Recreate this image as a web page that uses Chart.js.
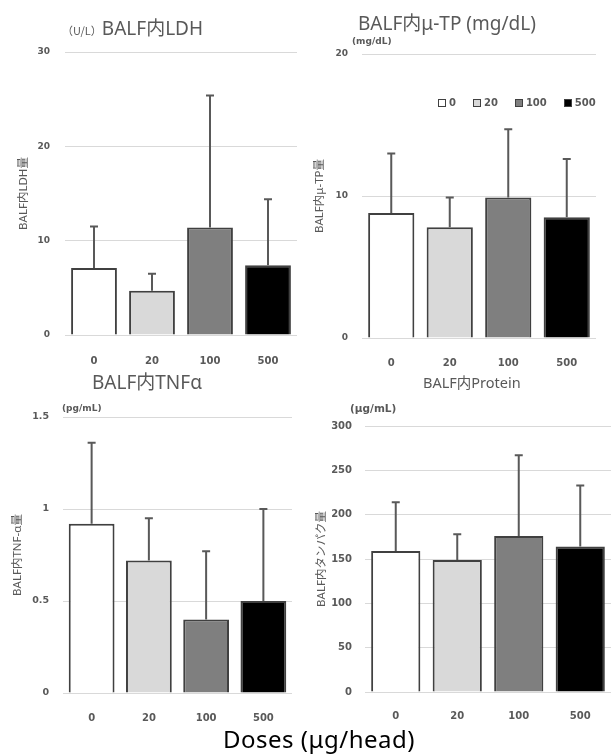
<!DOCTYPE html>
<html lang="ja">
<head>
<meta charset="UTF-8">
<title>BALF</title>
<script src="https://cdn.jsdelivr.net/npm/chart.js"></script>
<style>
  body {
    margin: 0;
    width: 611px;
    height: 754px;
    overflow: hidden;
    position: relative;
    background: #fff;
    color: #595959;
    font-family: 'Noto Sans', 'Noto Sans CJK JP', sans-serif;
  }
  canvas { position: absolute; }
  .txt { position: absolute; white-space: nowrap; line-height: 1; }
  .title { font-size: 19px; }
  .unit { font-family: 'DejaVu Sans', sans-serif; font-weight: bold; font-size: 9px; }
  #legend { position: absolute; left: 438px; top: 98px; display: flex; align-items: center;
            font-family: 'DejaVu Sans', sans-serif; font-weight: bold; font-size: 10px; line-height: 1; }
  #legend .item { display: flex; align-items: center; margin-right: 17px; }
  #legend .box { width: 6px; height: 6px; border: 1.5px solid #404040; margin-right: 3px; }
  #doses { left: 223px; top: 727px; font-size: 24px; letter-spacing: 0.5px; color: #000; }
</style>
</head>
<body>
  <canvas id="ldhChart" width="305" height="370" style="left:0;top:0"></canvas>
  <canvas id="tpChart" width="306" height="370" style="left:305px;top:0"></canvas>
  <canvas id="tnfChart" width="305" height="384" style="left:0;top:370px"></canvas>
  <canvas id="protChart" width="306" height="384" style="left:305px;top:370px"></canvas>

  <div class="txt" style="left:62px;top:19px"><span style="font-family:'Noto Sans CJK JP';font-size:11px">（U/L）</span><span class="title">BALF内LDH</span></div>
  <div class="txt title" style="left:358px;top:14px">BALF内μ-TP (mg/dL)</div>
  <div class="txt unit" style="left:352px;top:37px">(mg/dL)</div>
  <div id="legend"></div>
  <div class="txt title" style="left:92px;top:373px">BALF内TNFα</div>
  <div class="txt unit" style="left:62px;top:404px">(pg/mL)</div>
  <div class="txt" style="left:423px;top:375px;font-size:14.5px">BALF内Protein</div>
  <div class="txt unit" style="left:350px;top:403px;font-size:10.5px">(μg/mL)</div>
  <div class="txt" id="doses">Doses (μg/head)</div>

<script>
  // 用量群
  const doses = ['0', '20', '100', '500'];
  const barColors = ['#FFFFFF', '#D9D9D9', '#7F7F7F', '#000000'];

  // 平均値と標準偏差
  const ldhMean = [7.1, 4.7, 11.4, 7.4];
  const ldhSd = [4.4, 1.8, 14.0, 7.0];
  const tpMean = [8.8, 7.8, 9.9, 8.5];
  const tpSd = [4.2, 2.1, 4.8, 4.1];
  const tnfMean = [0.92, 0.72, 0.40, 0.50];
  const tnfSd = [0.44, 0.23, 0.37, 0.50];
  const protMean = [159, 149, 176, 164];
  const protSd = [55, 29, 91, 69];

  const grey = '#595959';
  const titleFont = "'Noto Sans', 'Noto Sans CJK JP', sans-serif";
  const tickFont = "'DejaVu Sans', sans-serif";

  // エラーバー（上側のみ）
  const errorBars = {
    id: 'errorBars',
    afterDatasetsDraw(chart) {
      const ds = chart.data.datasets[0];
      const meta = chart.getDatasetMeta(0);
      const y = chart.scales.y;
      const ctx = chart.ctx;
      ctx.save();
      ctx.strokeStyle = grey;
      ctx.lineWidth = 2;
      meta.data.forEach((bar, i) => {
        const top = y.getPixelForValue(ds.data[i] + ds.errors[i]);
        ctx.beginPath();
        ctx.moveTo(bar.x, bar.y);
        ctx.lineTo(bar.x, top);
        ctx.moveTo(bar.x - 4, top);
        ctx.lineTo(bar.x + 4, top);
        ctx.stroke();
      });
      ctx.restore();
    }
  };

  function makePanel(id, o) {
    return new Chart(document.getElementById(id), {
      type: 'bar',
      data: {
        labels: doses,
        datasets: [{
          data: o.mean,
          errors: o.sd,
          backgroundColor: barColors,
          borderColor: '#404040',
          borderWidth: 2,
          barPercentage: o.barPct,
          categoryPercentage: 1
        }]
      },
      options: {
        responsive: false,
        animation: false,
        layout: { padding: o.pad },
        plugins: { legend: { display: false }, tooltip: { enabled: false } },
        scales: {
          x: {
            grid: { display: false },
            border: { display: false },
            ticks: { color: grey, font: { family: tickFont, weight: 'bold', size: 10 }, padding: o.xPad },
            afterFit: s => { s.height = 30; }
          },
          y: {
            min: 0,
            max: o.max,
            ticks: {
              stepSize: o.step,
              color: grey,
              font: { family: tickFont, weight: 'bold', size: o.yFont },
              padding: o.yPad,
              callback: v => String(v)
            },
            grid: { color: '#D9D9D9', drawTicks: false },
            border: { display: false },
            title: {
              display: true,
              text: o.yTitle,
              color: grey,
              font: { family: titleFont, size: 11.5 },
              padding: { top: o.titlePad, bottom: 0 }
            },
            afterFit: s => { s.width = o.yWidth; }
          }
        }
      },
      plugins: [errorBars]
    });
  }

  makePanel('ldhChart', {
    mean: ldhMean, sd: ldhSd, max: 30, step: 10, yTitle: 'BALF内LDH量',
    pad: { left: 0, top: 52, right: 8, bottom: 5 }, yWidth: 65, yPad: 15, yFont: 9,
    xPad: 12, titlePad: 17, barPct: 0.79
  });
  makePanel('tpChart', {
    mean: tpMean, sd: tpSd, max: 20, step: 10, yTitle: 'BALF内μ-TP量',
    pad: { left: 0, top: 54, right: 15, bottom: 2 }, yWidth: 57, yPad: 14, yFont: 9,
    xPad: 11, titlePad: 8, barPct: 0.79
  });
  makePanel('tnfChart', {
    mean: tnfMean, sd: tnfSd, max: 1.5, step: 0.5, yTitle: 'BALF内TNF-α量',
    pad: { left: 0, top: 47, right: 13, bottom: 31 }, yWidth: 63, yPad: 14, yFont: 9.5,
    xPad: 11.5, titlePad: 11, barPct: 0.8
  });
  makePanel('protChart', {
    mean: protMean, sd: protSd, max: 300, step: 50, yTitle: 'BALF内タンパク量',
    pad: { left: 0, top: 56, right: 0, bottom: 32 }, yWidth: 60, yPad: 13, yFont: 10,
    xPad: 10.5, titlePad: 10, barPct: 0.8
  });

  // 凡例
  const legend = document.getElementById('legend');
  doses.forEach((d, i) => {
    const item = document.createElement('div');
    item.className = 'item';
    const box = document.createElement('span');
    box.className = 'box';
    box.style.background = barColors[i];
    const label = document.createElement('span');
    label.textContent = d;
    item.appendChild(box);
    item.appendChild(label);
    legend.appendChild(item);
  });
</script>
</body>
</html>
